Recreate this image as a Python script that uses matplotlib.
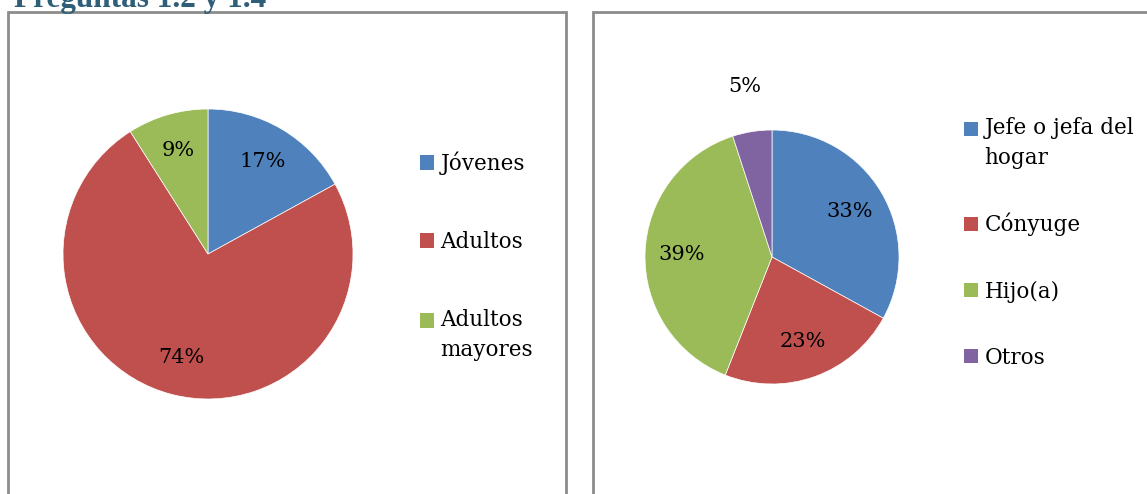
import matplotlib.pyplot as plt
from matplotlib.patches import Rectangle
from matplotlib.legend_handler import HandlerPatch

SERIF_FONT = "DejaVu Serif"
LABEL_FONT_SIZE = 15
LEGEND_FONT_SIZE = 15.5
TITLE_COLOR = "#2F5E78"
BORDER_COLOR = "#8C8C8C"

W, H = 1147, 494

# Data
edad_labels = ["Jóvenes", "Adultos", "Adultos\nmayores"]
edad_values = [17, 74, 9]
edad_colors = ["#4F81BD", "#C0504D", "#9BBB59"]

parentesco_labels = ["Jefe o jefa del\nhogar", "Cónyuge", "Hijo(a)", "Otros"]
parentesco_values = [33, 23, 39, 5]
parentesco_colors = ["#4F81BD", "#C0504D", "#9BBB59", "#8064A2"]

plt.rcParams["font.family"] = SERIF_FONT

fig = plt.figure(figsize=(W / 100, H / 100), dpi=100)


def px_axes(cx, cy, r):
    return fig.add_axes([(cx - r) / W, (H - cy - r) / H, 2 * r / W, 2 * r / H])


def draw_pie(ax, values, colors, pctdist):
    wedges, _, autotexts = ax.pie(
        values,
        colors=colors,
        startangle=90,
        counterclock=False,
        autopct="%1.0f%%",
        pctdistance=pctdist,
        wedgeprops=dict(edgecolor="white", linewidth=0.5),
        textprops=dict(fontsize=LABEL_FONT_SIZE, family=SERIF_FONT, color="black"),
    )
    ax.set_xlim(-1, 1)
    ax.set_ylim(-1, 1)
    ax.set_aspect("equal")
    ax.axis("off")
    return wedges, autotexts


# marker next to the first line of a two-line label
def first_line_patch(legend, orig_handle, xdescent, ydescent, width, height, fontsize):
    return Rectangle((-xdescent, -ydescent + 0.7 * fontsize), width, height)


def add_legend(wedges, labels, x, y, spacing):
    hmap = {
        w: HandlerPatch(patch_func=first_line_patch)
        for w, lab in zip(wedges, labels)
        if "\n" in lab
    }
    leg = fig.legend(
        wedges,
        labels,
        loc="center left",
        bbox_to_anchor=(x / W, 1 - y / H),
        frameon=False,
        fontsize=LEGEND_FONT_SIZE,
        handlelength=0.65,
        handleheight=0.65,
        handletextpad=0.3,
        labelspacing=spacing,
        borderpad=0,
        borderaxespad=0,
        handler_map=hmap,
    )
    plt.setp(leg.get_texts(), linespacing=1.45)
    for h in leg.legend_handles:
        h.set_edgecolor("none")
    return leg


# Panel borders
fig.patches.append(
    Rectangle((8 / W, -0.1), 558 / W, 1.1 - 12 / H, transform=fig.transFigure,
              fill=False, edgecolor=BORDER_COLOR, linewidth=2, clip_on=False)
)
fig.patches.append(
    Rectangle((593 / W, -0.1), 0.6, 1.1 - 12 / H, transform=fig.transFigure,
              fill=False, edgecolor=BORDER_COLOR, linewidth=2, clip_on=False)
)

# Title (cut at top in the original)
fig.text(14 / W, 1 - 7 / H, "Preguntas 1.2 y 1.4", fontsize=22.5, fontweight="bold",
         family="Liberation Serif", color=TITLE_COLOR, va="baseline", ha="left")

# Left pie
ax1 = px_axes(208, 254, 145)
w1, t1 = draw_pie(ax1, edad_values, edad_colors, 0.74)
add_legend(w1, edad_labels, 420, 256, 2.6)

# Right pie
ax2 = px_axes(772, 257, 127)
w2, t2 = draw_pie(ax2, parentesco_values, parentesco_colors, 0.71)
# small slice label sits outside the pie
px, py = t2[-1].get_position()
t2[-1].set_position((px * 1.36 / 0.71, py * 1.36 / 0.71))
add_legend(w2, parentesco_labels, 964, 243, 2.05)

plt.savefig("out.png", dpi=100)
